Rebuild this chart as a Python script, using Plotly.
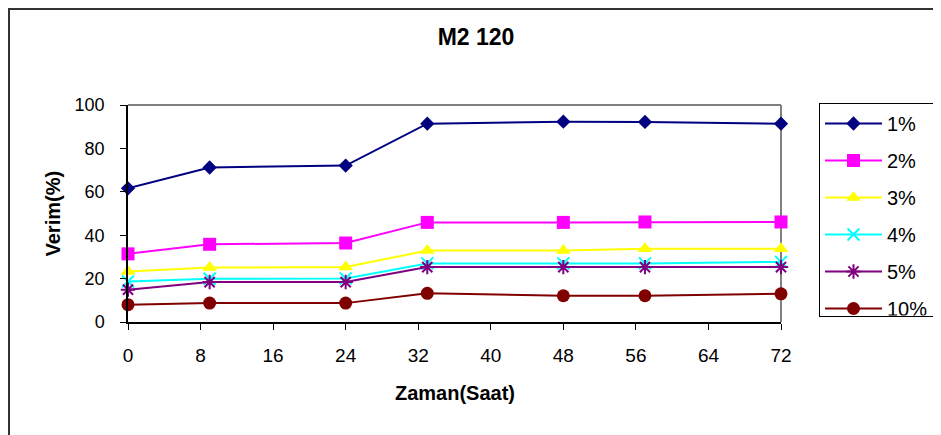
import plotly.graph_objects as go

hours = [0, 9, 24, 33, 48, 57, 72]
series_names = ["1%", "2%", "3%", "4%", "5%", "10%"]
y_1 = [61.6, 71.2, 72.1, 91.4, 92.3, 92.2, 91.4]
y_2 = [31.4, 35.8, 36.4, 45.9, 45.9, 46.1, 46.1]
y_3 = [23.3, 25.1, 25.3, 32.9, 32.9, 33.7, 33.7]
y_4 = [18.7, 19.9, 20.1, 27.0, 27.0, 27.0, 27.7]
y_5 = [14.9, 18.4, 18.4, 25.3, 25.3, 25.3, 25.3]
y_10 = [8.0, 8.7, 8.7, 13.2, 12.1, 12.1, 13.0]
x_ticks = [0, 8, 16, 24, 32, 40, 48, 56, 64, 72]
y_ticks = [0, 20, 40, 60, 80, 100]

series_values = [y_1, y_2, y_3, y_4, y_5, y_10]
colors = ["#000080", "#FF00FF", "#FFFF00", "#00FFFF", "#800080", "#800000"]
symbols = ["diamond", "square", "triangle-up", "x-thin", "asterisk", "circle"]
sizes = [11, 13, 13, 12, 12, 13]

FONT = "Liberation Sans, Arial, sans-serif"

fig = go.Figure()
for i, (name, vals) in enumerate(zip(series_names, series_values)):
    sym = symbols[i]
    mk = dict(symbol=sym, size=sizes[i], color=colors[i])
    if sym in ("x-thin", "asterisk"):
        mk["line"] = dict(color=colors[i], width=2)
    else:
        mk["line"] = dict(width=0)
    fig.add_trace(go.Scatter(
        x=hours, y=vals, name=name, mode="lines+markers",
        line=dict(color=colors[i], width=2),
        marker=mk, cliponaxis=False, legendgroup="g%d" % i,
    ))

# page body has an 8px margin: figure px = reference px - 8
OFF = 8
W, H = 941 - OFF, 435 - OFF
L, T = 128 - OFF, 105 - OFF
pw, ph = 653, 217
R, B = W - L - pw, H - T - ph

fig.update_layout(
    width=W, height=H,
    margin=dict(l=L, r=R, t=T, b=B, autoexpand=False),
    paper_bgcolor="white", plot_bgcolor="white",
    font=dict(family=FONT, color="black"),
    showlegend=True,
    legend=dict(
        xref="container", yref="container",
        x=(819 - OFF) / W, xanchor="left",
        y=1 - (103 - OFF) / H, yanchor="top",
        bordercolor="black", borderwidth=1, bgcolor="white",
        font=dict(family=FONT, size=20, color="black"),
        tracegroupgap=8, itemwidth=57,
    ),
    title=dict(text="<b>M2 120</b>", x=(476 - OFF) / W, xanchor="center",
               y=1 - (37 - OFF) / H, yanchor="middle", yref="container",
               font=dict(family=FONT, size=23, color="black")),
    xaxis=dict(
        range=[0, 72], tickmode="array", tickvals=x_ticks,
        ticktext=[str(v) for v in x_ticks],
        showgrid=False, zeroline=False, showline=True, linecolor="black",
        linewidth=1.5, ticks="outside", ticklen=6, tickcolor="black",
        tickfont=dict(family=FONT, size=19, color="black"),
        ticklabelstandoff=9, automargin=False,
    ),
    yaxis=dict(
        range=[0, 100], tickmode="array", tickvals=y_ticks,
        showgrid=False, zeroline=False, showline=True, linecolor="black",
        linewidth=1.5, ticks="outside", ticklen=6, tickcolor="black",
        tickfont=dict(family=FONT, size=18, color="black"),
        ticklabelstandoff=12, automargin=False,
    ),
    annotations=[
        dict(text="<b>Zaman(Saat)</b>", xref="paper", yref="paper",
             x=0.5, y=(322 - 393) / ph, xanchor="center", yanchor="middle",
             showarrow=False, font=dict(family=FONT, size=20, color="black")),
        dict(text="<b>Verim(%)</b>", xref="paper", yref="paper",
             x=(52 - 128) / pw, y=0.5, xanchor="center", yanchor="middle",
             textangle=-90, showarrow=False,
             font=dict(family=FONT, size=20, color="black")),
    ],
    shapes=[
        dict(type="line", xref="paper", yref="paper", x0=0, x1=1, y0=1, y1=1,
             line=dict(color="#808080", width=2), layer="below"),
        dict(type="line", xref="paper", yref="paper", x0=1, x1=1, y0=0, y1=1,
             line=dict(color="#808080", width=2), layer="below"),
        dict(type="rect", xref="paper", yref="paper",
             x0=(1 - L) / pw, x1=(W + 20 - L) / pw,
             y0=-(B + 20) / ph, y1=(T + ph - 1) / ph,
             line=dict(color="#333333", width=2), fillcolor="rgba(0,0,0,0)"),
    ],
)

fig.write_html("out.html")
